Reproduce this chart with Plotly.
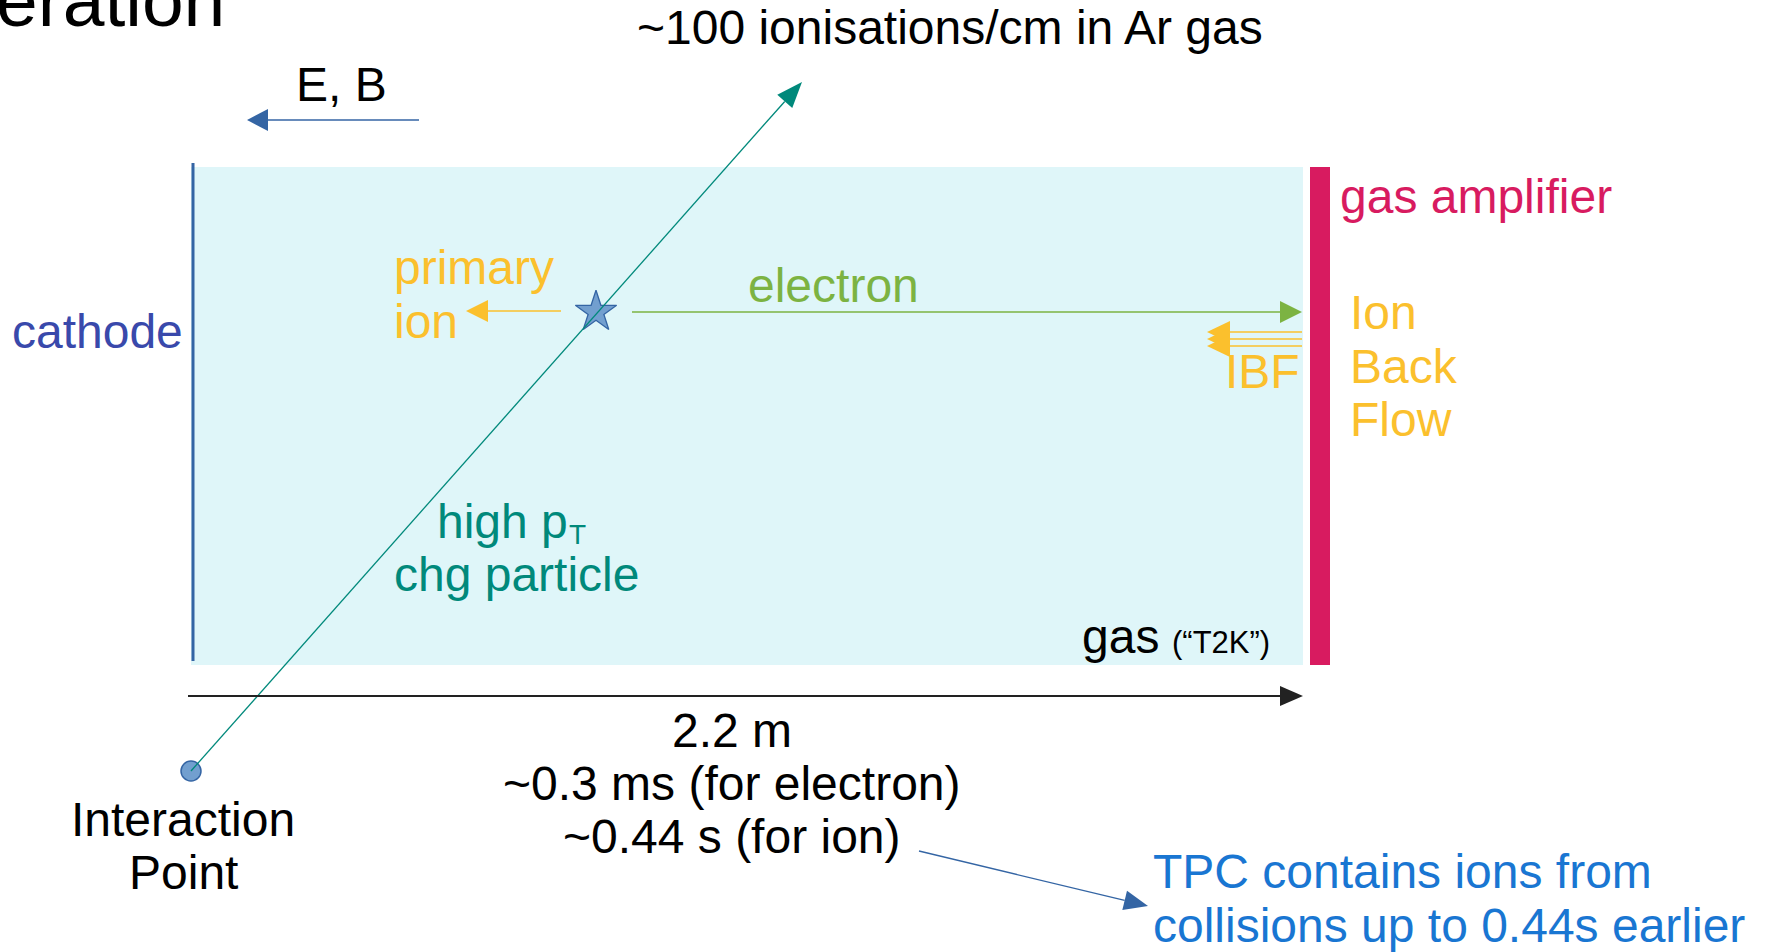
import math
import plotly.graph_objects as go

W, H = 1769, 952
FONT = "Liberation Sans"

# ---- text content of the diagram ----
title_fragment = "eration"
ionisation_label = "~100 ionisations/cm in Ar gas"
field_label = "E, B"
cathode_label = "cathode"
amplifier_label = "gas amplifier"
primary_ion_lines = ["primary", "ion"]
electron_label = "electron"
ibf_label = "IBF"
ibf_lines = ["Ion", "Back", "Flow"]
particle_lines = ["high p", "chg particle"]
particle_sub = "T"
gas_label = "gas"
gas_note = "(“T2K”)"
drift_lines = ["2.2 m", "~0.3 ms (for electron)", "~0.44 s (for ion)"]
ip_lines = ["Interaction", "Point"]
tpc_lines = ["TPC contains ions from", "collisions up to 0.44s earlier"]

# ---- colours ----
AMBER = "#fbc02d"
GREEN = "#7cb342"
TEAL = "#00897b"
RED = "#d81b60"
CYAN = "#dff6f9"
BLUE = "#3465a4"
LBLUE = "#729fcf"
INDIGO = "#3949ab"
TPCBLUE = "#1976d2"

FS = 48
shapes = []
annotations = []


def label(txt, x, base, size=FS, color="black", anchor="left"):
    if anchor == "left":
        x = x - 2
    ypix = base + 0.212 * size + 2
    annotations.append(dict(
        x=x / W, y=1 - ypix / H, xref="paper", yref="paper", text=txt,
        showarrow=False, xanchor=anchor, yanchor="bottom", borderpad=0,
        font=dict(family=FONT, size=size, color=color)))


def line(x0, y0, x1, y1, color, width):
    shapes.append(dict(type="line", x0=x0, y0=y0, x1=x1, y1=y1,
                       xref="x", yref="y", line=dict(color=color, width=width)))


def head(tx, ty, dx, dy, length, half, color):
    n = math.hypot(dx, dy)
    ux, uy = dx / n, dy / n
    bx, by = tx - ux * length, ty - uy * length
    px, py = -uy * half, ux * half
    path = (f"M {tx},{ty} L {bx + px},{by + py} L {bx - px},{by - py} Z")
    shapes.append(dict(type="path", path=path, xref="x", yref="y",
                       fillcolor=color, line=dict(width=0)))
    return bx, by


def arrow(x0, y0, x1, y1, color, width, length=22, half=10):
    bx, by = head(x1, y1, x1 - x0, y1 - y0, length, half, color)
    line(x0, y0, bx, by, color, width)


# gas volume
shapes.append(dict(type="rect", x0=191, x1=1303, y0=167, y1=665, xref="x", yref="y",
                   fillcolor=CYAN, line=dict(width=0), layer="below"))
# amplifier bar
shapes.append(dict(type="rect", x0=1310, x1=1330, y0=167, y1=665, xref="x", yref="y",
                   fillcolor=RED, line=dict(width=0)))
# cathode
line(193, 163, 193, 661, BLUE, 3)

# E,B arrow
arrow(419, 120, 247, 120, BLUE, 1.5, 21, 11)
# track
arrow(191, 771, 802, 82, TEAL, 1.3, 26, 10)
# primary ion arrow
arrow(561, 311, 466, 311, AMBER, 1.5, 22, 11)
# electron arrow
arrow(632, 312, 1302, 312, GREEN, 1.5, 22, 11)
# IBF arrows
for yy in (332, 339, 346):
    line(1302, yy, 1228, yy, AMBER, 1.5)
    head(1207, yy, -1, 0, 23, 11, AMBER)
# drift length arrow
arrow(188, 696, 1303, 696, "#222222", 1.8, 23, 10)
# TPC note arrow
arrow(919, 851, 1148, 906, BLUE, 1.3, 24, 10)

fig = go.Figure()
# star (ionisation point) and interaction point
fig.add_trace(go.Scatter(x=[596], y=[312], mode="markers", hoverinfo="skip",
                         marker=dict(symbol="star", size=31, color=LBLUE,
                                     line=dict(color=BLUE, width=1.3))))
fig.add_trace(go.Scatter(x=[191], y=[771], mode="markers", hoverinfo="skip",
                         marker=dict(symbol="circle", size=20, color=LBLUE,
                                     line=dict(color=BLUE, width=1.5))))

# texts
label(title_fragment, 226, 25, size=75, anchor="right")
label(ionisation_label, 950, 43, anchor="center")
label(field_label, 297, 100)
label(amplifier_label, 1341, 212, color=RED)
label(cathode_label, 13, 347, color=INDIGO)
for t, b in zip(primary_ion_lines, (283, 337)):
    label(t, 395, b, color=AMBER)
label(electron_label, 749, 301, color=GREEN)
label(ibf_label, 1226, 387, color=AMBER)
for t, b in zip(ibf_lines, (328, 382, 435)):
    label(t, 1351, b, color=AMBER)
label(particle_lines[0], 438, 537, color=TEAL)
label(particle_sub, 570, 543, size=28, color=TEAL)
label(particle_lines[1], 395, 590, color=TEAL)
label(gas_label, 1083, 652)
label(gas_note, 1173, 652, size=31)
for t, b in zip(drift_lines, (746, 799, 852)):
    label(t, 731.5, b, anchor="center")
for t, b in zip(ip_lines, (835, 888)):
    label(t, 183, b, anchor="center")
for t, b in zip(tpc_lines, (887, 941)):
    label(t, 1154, b, color=TPCBLUE)

fig.update_layout(
    width=W, height=H, margin=dict(l=0, r=0, t=0, b=0),
    paper_bgcolor="white", plot_bgcolor="white", showlegend=False,
    xaxis=dict(range=[0, W], visible=False, fixedrange=True),
    yaxis=dict(range=[H, 0], visible=False, fixedrange=True),
    shapes=shapes, annotations=annotations,
)

fig.write_html("out.html", config={"displayModeBar": False},
               post_script="document.body.style.margin='0';document.body.style.overflow='hidden';")
